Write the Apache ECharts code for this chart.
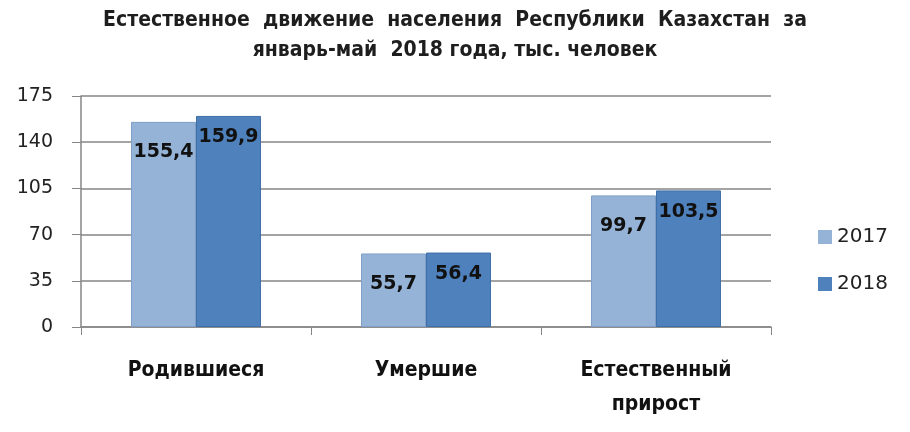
<!DOCTYPE html>
<html>
<head>
<meta charset="utf-8">
<script src="https://cdn.jsdelivr.net/npm/echarts@6/dist/echarts.min.js"></script>
<style>
  html, body { margin: 0; padding: 0; background: #fff; }
  #main { width: 910px; height: 432px; }
</style>
</head>
<body>
<div id="main"></div>
<script>
const categories = ['Родившиеся', 'Умершие', 'Естественный\nприрост'];
const years = ['2017', '2018'];
const values2017 = [155.4, 55.7, 99.7];
const values2018 = [159.9, 56.4, 103.5];

let myChart = echarts.init(document.getElementById('main'));

const fmt = p => String(p.value).replace('.', ',');

let option = {
  backgroundColor: '#fff',
  animation: false,
  title: {
    text: 'Естественное  движение  населения  Республики  Казахстан  за\nянварь-май  2018 года, тыс. человек',
    left: 'center',
    top: 1,
    textStyle: {
      fontFamily: 'DejaVu Sans Condensed',
      fontWeight: 'bold',
      fontSize: 21,
      lineHeight: 30,
      color: '#1e1e1e'
    }
  },
  grid: { left: 81, right: 139, top: 96, bottom: 105 },
  legend: {
    data: years,
    orient: 'vertical',
    left: 813,
    top: 222,
    itemWidth: 14,
    itemHeight: 14,
    itemGap: 27,
    icon: 'rect',
    itemStyle: { borderWidth: 0 },
    textStyle: { fontFamily: 'DejaVu Sans', fontSize: 20, lineHeight: 20, color: '#222' }
  },
  xAxis: {
    type: 'category',
    data: categories,
    axisLine: { lineStyle: { color: '#868686', width: 1.5 } },
    axisTick: { show: true, length: 8, lineStyle: { color: '#868686' } },
    axisLabel: {
      margin: 27,
      fontFamily: 'DejaVu Sans Condensed',
      fontWeight: 'bold',
      fontSize: 21,
      lineHeight: 34,
      color: '#111'
    }
  },
  yAxis: {
    type: 'value',
    min: 0,
    max: 175,
    interval: 35,
    axisLine: { show: true, lineStyle: { color: '#868686', width: 1.5 } },
    axisTick: { show: true, length: 9, lineStyle: { color: '#868686' } },
    splitLine: { lineStyle: { color: '#868686', width: 1.5 } },
    axisLabel: {
      margin: 28,
      fontFamily: 'DejaVu Sans',
      fontSize: 19,
      color: '#222'
    }
  },
  series: [
    {
      name: '2017',
      type: 'bar',
      data: values2017,
      barGap: '0%',
      barCategoryGap: '43.5%',
      itemStyle: { color: '#95B3D7', borderColor: '#7F9FC8', borderWidth: 1 },
      label: {
        show: true,
        position: 'insideTop',
        distance: 21,
        formatter: fmt,
        fontFamily: 'DejaVu Sans',
        fontWeight: 'bold',
        fontSize: 19,
        color: '#111'
      }
    },
    {
      name: '2018',
      type: 'bar',
      data: values2018,
      itemStyle: { color: '#4F81BD', borderColor: '#3F6FA8', borderWidth: 1 },
      label: {
        show: true,
        position: 'insideTop',
        distance: 12,
        formatter: fmt,
        fontFamily: 'DejaVu Sans',
        fontWeight: 'bold',
        fontSize: 19,
        color: '#111'
      }
    }
  ]
};
myChart.setOption(option);
</script>
</body>
</html>
